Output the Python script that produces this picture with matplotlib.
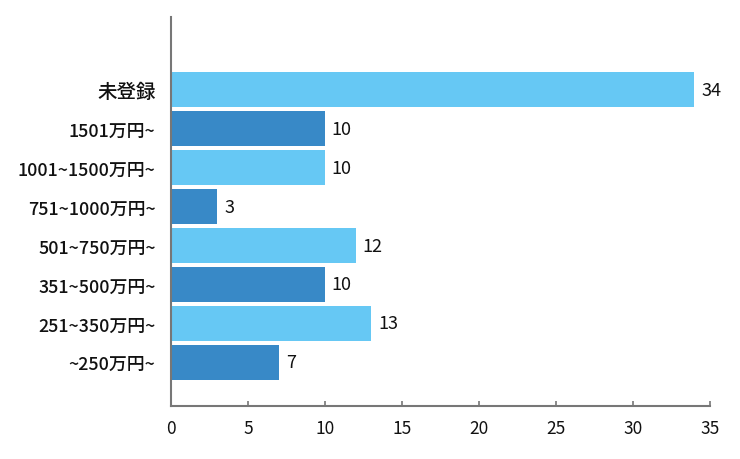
import matplotlib
matplotlib.use("Agg")
import matplotlib.pyplot as plt

plt.rcParams['font.family'] = ['Noto Sans CJK JP', 'DejaVu Sans']

categories = ['~250万円~', '251~350万円~', '351~500万円~', '501~750万円~',
              '751~1000万円~', '1001~1500万円~', '1501万円~', '未登録']
values = [7, 13, 10, 12, 3, 10, 10, 34]
colors = ['#3889C7', '#66C8F4', '#3889C7', '#66C8F4',
          '#3889C7', '#66C8F4', '#3889C7', '#66C8F4']
x_ticks = [0, 5, 10, 15, 20, 25, 30, 35]

fig = plt.figure(figsize=(7.4, 4.6), dpi=100)
ax = fig.add_axes([0.231, 0.1163, 0.728, 0.8446])

y = list(range(len(categories)))
ax.barh(y, values, height=0.9, color=colors)

for yi, v in zip(y, values):
    ax.annotate(str(v), xy=(v, yi), xytext=(5, 0), textcoords='offset points',
                va='center', ha='left', fontsize=13, color='#111111')

ax.set_xlim(0, 35)
ax.set_ylim(-1.11, 8.87)
ax.set_xticks(x_ticks)
ax.set_xticklabels([str(t) for t in x_ticks], fontsize=12.5, color='#111111')
ax.set_yticks(y)
ax.set_yticklabels(categories, fontsize=12.9, color='#111111', fontweight='medium')
lbl = ax.get_yticklabels()[-1]
lbl.set_fontsize(14)

ax.tick_params(axis='y', length=0, pad=11)
ax.tick_params(axis='x', direction='in', length=3.5, width=1.2, color='#777777', pad=10)

for s in ['top', 'right']:
    ax.spines[s].set_visible(False)
for s in ['left', 'bottom']:
    ax.spines[s].set_color('#777777')
    ax.spines[s].set_linewidth(1.5)

fig.savefig('out.png', dpi=100)
